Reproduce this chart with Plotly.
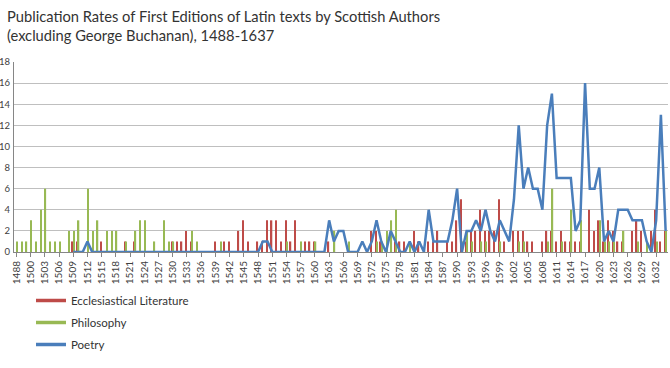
import plotly.graph_objects as go

# ---------------- data ----------------
YEARS = [1488, 1494, 1497,
         1500, 1501, 1502, 1503, 1504, 1505, 1506, 1507, 1508, 1509,
         1510, 1511, 1512, 1513, 1514, 1515, 1516, 1517, 1518, 1519,
         1520, 1521, 1522, 1523, 1524, 1525, 1526, 1527, 1528, 1529,
         1530, 1531, 1532, 1533, 1534, 1535, 1536, 1537, 1538, 1539,
         1540, 1541, 1542, 1543, 1544, 1545, 1546, 1547, 1548, 1549,
         1550, 1551, 1552, 1553, 1554, 1555, 1556, 1557, 1558, 1559,
         1560, 1561, 1562, 1563, 1564, 1565, 1566, 1567, 1568, 1569,
         1570, 1571, 1572, 1573, 1574, 1575, 1576, 1577, 1578, 1579,
         1580, 1581, 1582, 1583, 1584, 1585, 1586, 1587, 1588, 1589,
         1590, 1591, 1592, 1593, 1594, 1595, 1596, 1597, 1598, 1599,
         1600, 1601, 1602, 1603, 1604, 1605, 1606, 1607, 1608, 1609,
         1610, 1611, 1612, 1613, 1614, 1615, 1616, 1617, 1618, 1619,
         1620, 1621, 1622, 1623, 1624, 1625, 1626, 1627, 1628, 1629,
         1630, 1631, 1632, 1633, 1634]

ECCLESIASTICAL = [0, 0, 0,
                  0, 0, 0, 0, 0, 0, 0, 0, 0, 1,
                  1, 0, 0, 0, 0, 1, 0, 0, 0, 0,
                  1, 0, 1, 0, 0, 0, 0, 0, 0, 0,
                  1, 1, 1, 2, 1, 0, 0, 0, 0, 1,
                  0, 1, 1, 0, 2, 3, 1, 0, 1, 1,
                  3, 3, 3, 1, 3, 1, 3, 0, 1, 1,
                  1, 0, 0, 1, 0, 0, 0, 0, 0, 0,
                  0, 0, 2, 2, 1, 0, 0, 1, 1, 1,
                  0, 2, 1, 0, 1, 1, 2, 0, 1, 1,
                  3, 5, 1, 2, 2, 4, 2, 2, 2, 5,
                  1, 0, 2, 2, 2, 1, 1, 0, 1, 2,
                  2, 1, 2, 1, 1, 1, 1, 0, 4, 2,
                  3, 1, 3, 2, 1, 1, 0, 2, 3, 2,
                  0, 2, 4, 1, 2]

PHILOSOPHY = [1, 1, 1,
              3, 1, 4, 6, 1, 1, 1, 0, 2, 2,
              3, 0, 6, 2, 3, 0, 2, 2, 2, 0,
              1, 0, 2, 3, 3, 0, 1, 0, 3, 1,
              1, 0, 0, 0, 2, 1, 0, 0, 0, 0,
              1, 0, 0, 0, 0, 0, 0, 0, 0, 0,
              0, 0, 0, 0, 1, 0, 0, 1, 0, 0,
              1, 0, 0, 0, 2, 0, 0, 1, 0, 0,
              0, 0, 0, 1, 1, 2, 3, 4, 0, 0,
              1, 0, 0, 0, 0, 0, 0, 0, 0, 0,
              0, 1, 2, 1, 0, 1, 1, 0, 0, 1,
              0, 0, 0, 1, 1, 0, 0, 0, 0, 1,
              6, 0, 1, 0, 4, 0, 3, 0, 0, 0,
              3, 1, 1, 1, 0, 2, 0, 0, 1, 0,
              1, 0, 1, 0, 2]

POETRY = [None, None, None,
          None, None, None, None, None, None, None, None, None, 0,
          0, 0, 1, 0, 0, 0, 0, 0, 0, 0,
          0, 0, 0, 0, 0, 0, 0, 0, 0, 0,
          0, 0, 0, 0, 0, 0, 0, 0, 0, 0,
          0, 0, 0, 0, 0, 0, 0, 0, 0, 1,
          1, 0, 0, 0, 0, 0, 0, 0, 0, 0,
          0, 0, 0, 3, 1, 2, 2, 0, 0, 0,
          1, 0, 1, 3, 1, 0, 2, 1, 0, 0,
          1, 0, 1, 0, 4, 1, 1, 1, 1, 3,
          6, 0, 2, 2, 3, 2, 4, 2, 1, 3,
          2, 1, 5, 12, 6, 8, 6, 6, 4, 12,
          15, 7, 7, 7, 7, 2, 3, 16, 6, 6,
          8, 1, 2, 1, 4, 4, 4, 3, 3, 3,
          1, 0, 3, 13, 2]

SERIES_NAMES = ["Ecclesiastical Literature", "Philosophy", "Poetry"]
TITLE = ("Publication Rates of First Editions of Latin texts by Scottish Authors"
         "<br>(excluding George Buchanan), 1488-1637")
Y_TICKS = [0, 2, 4, 6, 8, 10, 12, 14, 16, 18]

# ---------------- styles ----------------
RED = "#BE4B48"
GREEN = "#98B954"
BLUE = "#4A7EBB"
FONT = "Lato, 'Liberation Sans', Arial, sans-serif"
W, H = 670, 368
ML, MR, MT, MB = 14, 2, 62, 116
PW, PH = W - ML - MR, H - MT - MB

cats = [str(y) for y in YEARS]

fig = go.Figure()
fig.add_trace(go.Bar(x=cats, y=ECCLESIASTICAL, name=SERIES_NAMES[0],
                     marker=dict(color=RED, line=dict(width=0)),
                     legendgroup="e", showlegend=False))
fig.add_trace(go.Bar(x=cats, y=PHILOSOPHY, name=SERIES_NAMES[1],
                     marker=dict(color=GREEN, line=dict(width=0)),
                     legendgroup="p", showlegend=False))
fig.add_trace(go.Scatter(x=cats, y=POETRY, name=SERIES_NAMES[2], mode="lines",
                         line=dict(color=BLUE, width=2.5), connectgaps=False,
                         legendgroup="q", showlegend=False))

# legend entries drawn as line samples (as in the original)
for nm, col, grp in zip(SERIES_NAMES, [RED, GREEN, BLUE], ["e", "p", "q"]):
    fig.add_trace(go.Scatter(x=[None], y=[None], mode="lines", name=nm,
                             line=dict(color=col, width=3.5), legendgroup=grp))

fig.add_annotation(text=TITLE, xref="paper", yref="paper",
                   x=(5 - ML) / PW, xanchor="left",
                   y=(H - MB - 5) / PH, yanchor="top",
                   showarrow=False, align="left",
                   font=dict(family=FONT, size=14.7, color="#333333"))

fig.update_layout(
    width=W, height=H,
    margin=dict(l=ML, r=MR, t=MT, b=MB, autoexpand=False),
    paper_bgcolor="white", plot_bgcolor="white",
    barmode="group", bargap=0.45, bargroupgap=0,
    font=dict(family=FONT, color="#404040", size=10),
    legend=dict(x=17 / PW, xanchor="left", y=-(286 - (H - MB)) / PH,
                yanchor="top",
                orientation="v", traceorder="grouped", tracegroupgap=3,
                font=dict(family=FONT, size=11.5, color="#333333"),
                bgcolor="rgba(0,0,0,0)"),
    showlegend=True,
)
fig.update_xaxes(type="category", categoryorder="array", categoryarray=cats,
                 tickmode="linear", tick0=0, dtick=3, tickangle=-90,
                 ticks="outside", ticklen=4, tickcolor="#868686",
                 showline=True, linecolor="#868686", linewidth=1,
                 showgrid=False, zeroline=False,
                 tickfont=dict(family=FONT, size=10, color="#404040"),
                 range=[-0.5, len(cats) - 0.5])
fig.update_yaxes(range=[0, 18], tickmode="array", tickvals=Y_TICKS,
                 showgrid=True, gridcolor="#BFBFBF", gridwidth=1,
                 showline=True, linecolor="#868686", linewidth=1,
                 ticks="", ticklabelstandoff=1,
                 zeroline=False,
                 tickfont=dict(family=FONT, size=9.5, color="#404040"))

fig.write_html("out.html",
               config={"displayModeBar": False},
               post_script="document.body.style.margin='0px';"
                           "document.body.style.overflow='hidden';")
